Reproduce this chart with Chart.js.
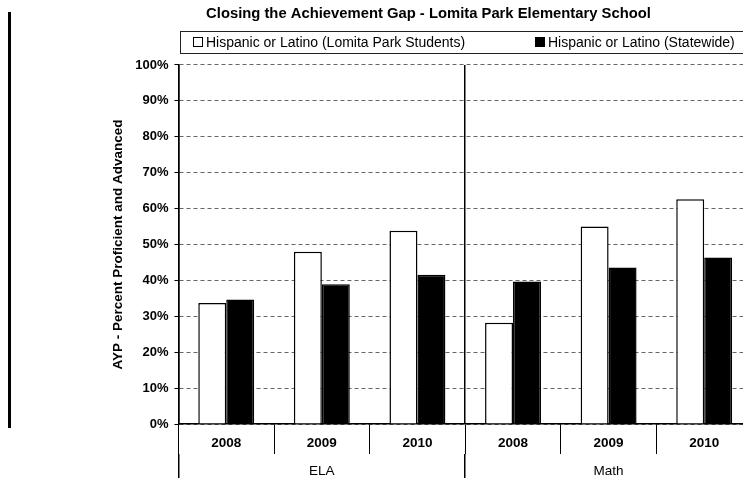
<!DOCTYPE html>
<html>
<head>
<meta charset="utf-8">
<script src="https://cdn.jsdelivr.net/npm/chart.js@4"></script>
<style>
  html, body { margin: 0; padding: 0; background: #fff; }
  #frame { position: relative; width: 743px; height: 478px; overflow: hidden; background: #fff; }
  #wrap { position: absolute; left: 0; top: 0; width: 866px; height: 478px; }
  #edge { position: absolute; left: 8px; top: 12px; width: 3px; height: 416px; background: #000; }
  #legend { position: absolute; left: 180px; top: 31px; width: 620px; height: 21px; border: 1px solid #222;
            font: 14px "Liberation Sans", Arial, sans-serif; color: #000; }
  #legend .item { position: absolute; top: 2px; white-space: nowrap; line-height: 17px; }
  #legend .box { display: inline-block; width: 8px; height: 8px; border: 1px solid #000; margin-right: 3px; vertical-align: 0px; }
</style>
</head>
<body>
<div id="frame">
  <div id="wrap"><canvas id="gapChart"></canvas></div>
  <div id="edge"></div>
  <div id="legend"></div>
</div>
<script>
// Données
const years = ['2008', '2009', '2010', '2008', '2009', '2010'];
const subjects = ['ELA', 'Math'];
const seriesNames = ['Hispanic or Latino (Lomita Park Students)', 'Hispanic or Latino (Statewide)'];
const lomitaPark = [33.7, 48.0, 53.8, 28.2, 55.0, 62.6];
const statewide = [34.7, 38.9, 41.6, 39.7, 43.6, 46.4];
const seriesFill = ['#ffffff', '#000000'];

Chart.defaults.font.family = '"Liberation Sans", Arial, sans-serif';
Chart.defaults.color = '#000';

// Légende HTML (boîte encadrée comme dans l'original)
const legendEl = document.getElementById('legend');
const legendLeft = [12, 354];
seriesNames.forEach((name, i) => {
    const item = document.createElement('span');
    item.className = 'item';
    item.style.left = legendLeft[i] + 'px';
    const box = document.createElement('span');
    box.className = 'box';
    box.style.background = seriesFill[i];
    item.appendChild(box);
    item.appendChild(document.createTextNode(name));
    legendEl.appendChild(item);
});

const ctx = document.getElementById('gapChart').getContext('2d');
const gapChart = new Chart(ctx, {
    type: 'bar',
    data: {
        labels: years,
        datasets: [{
            label: seriesNames[0],
            data: lomitaPark,
            backgroundColor: seriesFill[0],
            borderColor: '#000',
            borderWidth: 1.5,
            categoryPercentage: 0.585,
            barPercentage: 1.0
        }, {
            label: seriesNames[1],
            data: statewide,
            backgroundColor: seriesFill[1],
            borderColor: '#000',
            borderWidth: 1.5,
            categoryPercentage: 0.585,
            barPercentage: 1.0
        }]
    },
    options: {
        responsive: true,
        maintainAspectRatio: false,
        animation: false,
        layout: { padding: { left: 105, right: 114, top: 0, bottom: 0 } },
        plugins: {
            legend: { display: false },
            tooltip: { enabled: false },
            title: {
                display: true,
                text: 'Closing the Achievement Gap - Lomita Park Elementary School',
                font: { size: 14.8, weight: 'bold' },
                color: '#000',
                padding: { top: 5, bottom: 42.2 }
            }
        },
        scales: {
            x: {
                type: 'category',
                offset: true,
                weight: 0,
                grid: { display: true, offset: true, drawOnChartArea: false, tickLength: 30, color: '#000', lineWidth: 1 },
                border: { display: true, color: '#000', width: 1.5 },
                ticks: { font: { size: 13.5, weight: 'bold' }, padding: -19, maxRotation: 0, autoSkip: false },
                afterFit: (scale) => { scale.height = 30; }
            },
            x2: {
                type: 'category',
                axis: 'x',
                labels: subjects,
                offset: true,
                weight: 1,
                grid: { display: true, offset: true, drawOnChartArea: true, tickLength: 24, color: '#000', lineWidth: 1.5 },
                border: { display: false },
                ticks: { font: { size: 13.5 }, padding: -15, maxRotation: 0 },
                afterFit: (scale) => { scale.height = 24; }
            },
            y: {
                min: 0,
                max: 100,
                ticks: {
                    stepSize: 10,
                    padding: 6,
                    font: { size: 13, weight: 'bold' },
                    callback: (v) => v + '%'
                },
                grid: {
                    color: 'rgba(0,0,0,0.6)',
                    tickBorderDash: [],
                    tickColor: '#000',
                    tickLength: 4,
                    lineWidth: 1
                },
                border: { display: true, color: '#000', width: 1.5, dash: [4, 3] },
                title: {
                    display: true,
                    text: 'AYP - Percent Proficient and Advanced',
                    font: { size: 13.5, weight: 'bold' },
                    padding: { top: 5, bottom: 3 }
                }
            }
        }
    }
});
</script>
</body>
</html>
